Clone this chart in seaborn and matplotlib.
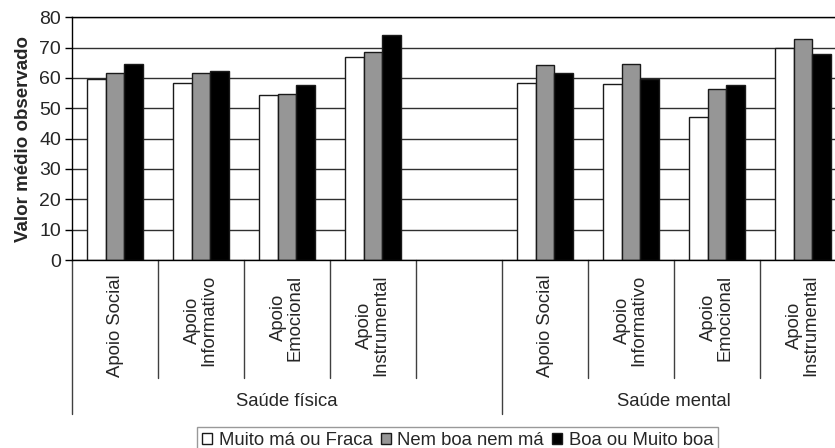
import numpy as np
import matplotlib
matplotlib.use("Agg")
import matplotlib.pyplot as plt
import pandas as pd
import seaborn as sb

grupos = ["Saúde física", "Saúde mental"]
tipos = ["Apoio Social", "Apoio\nInformativo", "Apoio\nEmocional", "Apoio\nInstrumental"]
niveis = ["Muito má ou Fraca", "Nem boa nem má", "Boa ou Muito boa"]

fisica_muito_ma = [59.7, 58.4, 54.5, 67.0]
fisica_nem_boa = [61.6, 61.8, 54.6, 68.4]
fisica_boa = [64.6, 62.4, 57.7, 74.2]
mental_muito_ma = [58.2, 58.0, 47.3, 70.0]
mental_nem_boa = [64.4, 64.7, 56.5, 72.7]
mental_boa = [61.6, 59.7, 57.7, 68.0]

yticks = [0, 10, 20, 30, 40, 50, 60, 70, 80]

valores = {
    "Saúde física": [fisica_muito_ma, fisica_nem_boa, fisica_boa],
    "Saúde mental": [mental_muito_ma, mental_nem_boa, mental_boa],
}

rows = []
for g in grupos:
    for k, nivel in enumerate(niveis):
        for j, t in enumerate(tipos):
            rows.append({"slot": g + "|" + t, "nivel": nivel, "valor": valores[g][k][j]})
df = pd.DataFrame(rows)

ordem = [grupos[0] + "|" + t for t in tipos] + ["vazio"] + [grupos[1] + "|" + t for t in tipos]
rotulos = tipos + [""] + tipos

sb.set_style("white")
plt.rcParams["font.family"] = ["Liberation Sans", "DejaVu Sans"]

fig = plt.figure(figsize=(8.35, 4.48), dpi=100)
ax = fig.add_axes([72 / 835, 1 - 260 / 448, (846 - 72) / 835, (260 - 17.3) / 448])

sb.barplot(data=df, x="slot", y="valor", hue="nivel", order=ordem, hue_order=niveis,
           palette=["white", "#969696", "black"], width=0.66, errorbar=None,
           edgecolor="#1a1a1a", linewidth=1, ax=ax)

ax.set_xlim(-0.5, 8.5)
ax.set_ylim(0, 80)
ax.set_yticks(yticks)
ax.set_xticks(range(len(ordem)))
ax.set_xticklabels(rotulos, rotation=90, fontsize=13.3, linespacing=0.95)
ax.tick_params(axis="x", length=0, pad=10.5)
ax.tick_params(axis="y", length=5, width=1, color="black", pad=3, labelsize=14, left=True)
ax.set_xlabel("")
ax.set_ylabel("Valor médio observado", fontsize=13.5, fontweight="bold", labelpad=5)

ax.set_axisbelow(True)
ax.yaxis.grid(True, color="#303030", linewidth=1)
for s in ["left", "bottom", "top"]:
    ax.spines[s].set_color("black")
    ax.spines[s].set_linewidth(1)
ax.spines["right"].set_visible(False)

# separadores das categorias abaixo do eixo
tr = ax.get_xaxis_transform()
for b in [0.5, 1.5, 2.5, 3.5, 5.5, 6.5, 7.5]:
    ax.plot([b, b], [0, -0.486], transform=tr, color="#404040", lw=1, clip_on=False)
for b in [-0.5, 4.5, 8.5]:
    ax.plot([b, b], [0, -0.634], transform=tr, color="#404040", lw=1, clip_on=False)

ax.text(2.0, -0.581, grupos[0], transform=tr, ha="center", va="center", fontsize=13.3)
ax.text(6.5, -0.581, grupos[1], transform=tr, ha="center", va="center", fontsize=13.3)

handles, labels = ax.get_legend_handles_labels()
ax.get_legend().remove()
fig.legend(handles, labels, loc="upper center", bbox_to_anchor=(0.548, 1 - 427 / 448), ncol=3,
           frameon=True, fancybox=False, edgecolor="#808080", fontsize=13.3,
           handlelength=0.55, handleheight=0.55, handletextpad=0.35, columnspacing=0.45,
           borderpad=0.25, borderaxespad=0)

plt.savefig("out.png", dpi=100)
